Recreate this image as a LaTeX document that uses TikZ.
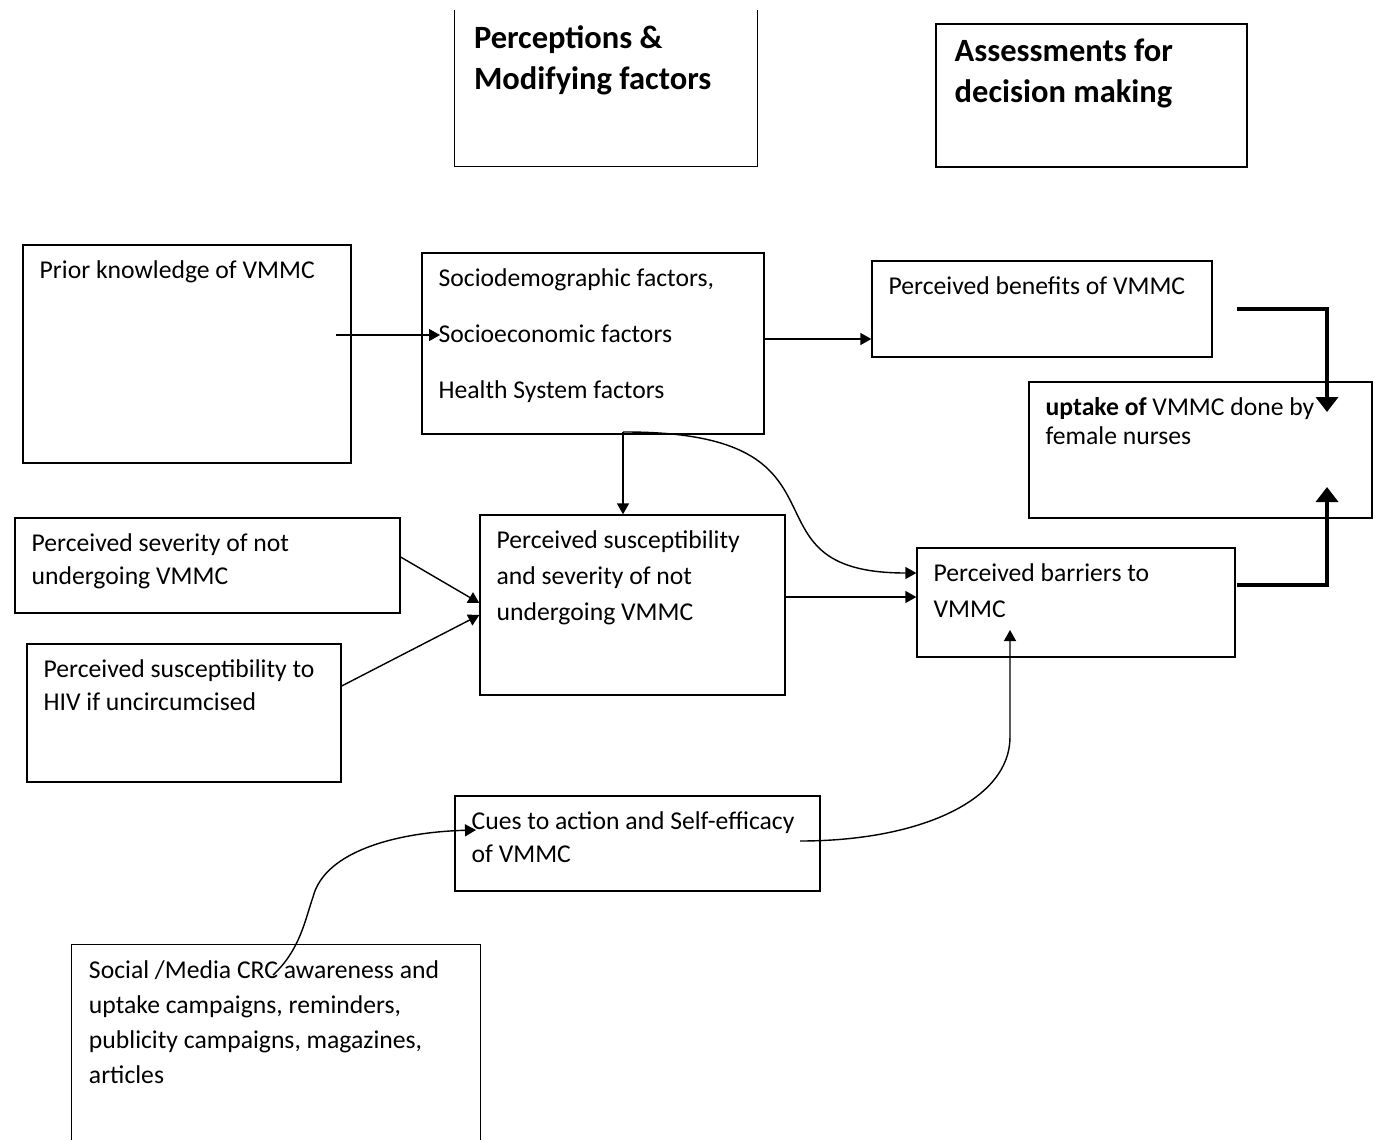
\documentclass[tikz,border=0pt]{standalone}
\usepackage{fontspec}
\setmainfont{Carlito}
\usetikzlibrary{positioning,fit,arrows.meta}

\tikzset{
  box/.style={draw, line width=0.75pt, inner sep=0pt},
  frame/.style={inner sep=0pt},
  txt/.style={anchor=north west, align=left, inner xsep=0.34cm, inner ysep=0.32cm, font=\fontsize{14.6}{18.8}\selectfont},
  head/.style={anchor=north west, align=left, inner xsep=0.38cm, inner ysep=0.31cm, font=\bfseries\fontsize{18.5}{23.3}\selectfont},
  arr/.style={-{Triangle[width=0.24cm,length=0.22cm]}, line width=0.8pt},
  fat/.style={-{Triangle[width=0.44cm,length=0.3cm]}, line width=2.4pt},
}

\begin{document}
\begin{tikzpicture}[x=0.02cm, y=-0.02cm]
\useasboundingbox (0,0) rectangle (1375,1140);

% headings
\node[frame, fit={(455,10) (757,166)}] (percframe) {};
\draw[line width=0.75pt] (percframe.north west) -- (percframe.south west) -- (percframe.south east) -- (percframe.north east);
\node[head] (perchead) at (percframe.north west) {Perceptions \&\\Modifying factors};
\node[box, fit={(936,24) (1247,167)}] (assess) {};
\node[head] (assesshead) at (assess.north west) {Assessments for\\decision making};

% boxes
\node[box, fit={(23,245) (351,463)}] (prior) {};
\node[box, fit={(422,253) (764,434)}] (socio) {};
\node[box, fit={(872,261) (1212,357)}] (benefit) {};
\node[box, fit={(1029,382) (1372,518)}] (uptake) {};
\node[box, fit={(15,518) (400,613)}] (severe) {};
\node[box, fit={(27,644) (341,782)}] (suscept) {};
\node[box, fit={(480,515) (785,695)}] (percsev) {};
\node[box, fit={(917,548) (1235,657)}] (barrier) {};
\node[box, fit={(455,796) (820,891)}] (cues) {};
\node[frame, fit={(72,945) (480,1140)}] (media) {};
\draw[line width=0.75pt] (media.south west) -- (media.north west) -- (media.north east) -- (media.south east);

% texts
\node[txt] (priortxt) at (prior.north west) {Prior knowledge of VMMC};
\node[txt, font=\fontsize{14.6}{31.9}\selectfont] (sociotxt) at (socio.north west) {Sociodemographic factors,\\Socioeconomic factors\\Health System factors};
\node[txt] (benefittxt) at (benefit.north west) {Perceived benefits of VMMC};
\node[txt, font=\fontsize{14.6}{16.5}\selectfont] (uptaketxt) at (uptake.north west) {\textbf{uptake of} VMMC done by\\female nurses};
\node[txt] (severetxt) at (severe.north west) {Perceived severity of not\\undergoing VMMC};
\node[txt] (suscepttxt) at (suscept.north west) {Perceived susceptibility to\\HIV if uncircumcised};
\node[txt, font=\fontsize{14.6}{20.5}\selectfont] (percsevtxt) at (percsev.north west) {Perceived susceptibility\\and severity of not\\undergoing VMMC};
\node[txt, font=\fontsize{14.6}{20.5}\selectfont] (barriertxt) at (barrier.north west) {Perceived barriers to\\VMMC};
\node[txt] (cuestxt) at (cues.north west) {Cues to action and Self-efficacy\\of VMMC};
\node[txt, font=\fontsize{14.6}{19.9}\selectfont] (mediatxt) at (media.north west) {Social /Media CRC awareness and\\uptake campaigns, reminders,\\publicity campaigns, magazines,\\articles};

% connectors
\coordinate (k1) at (336,335);
\coordinate (k2) at (440,335);
\draw[arr] (k1) -- (k2);
\draw[arr] (socio.east |- 0,339) -- (benefit.west |- 0,339);
\coordinate (b1) at (1237,309);
\coordinate (b2) at (1237,585);
\draw[fat] (b1) -| (1327,412);
\draw[fat] (b2) -| (1327,487);
\coordinate (fork) at (623,432);
\draw[arr] (fork) -- (fork |- percsev.north);
\draw[arr] (fork) .. controls (870,431) and (730,573) .. (barrier.west |- 0,573);
\draw[arr] (percsev.east |- 0,597) -- (barrier.west |- 0,597);
\draw[arr] (severe.east |- 0,557) -- (percsev.west |- 0,603);
\draw[arr] (suscept.east |- 0,686) -- (percsev.west |- 0,615);
\coordinate (c1) at (800,841);
\coordinate (c2) at (1010,630);
\draw[arr] (c1) .. controls (920,841) and (1010,800) .. (1010,737) -- (c2);
\coordinate (m1) at (273,975);
\coordinate (m2) at (476,830);
\draw[arr] (m1) .. controls (300,950) and (305,920) .. (313,897) .. controls (325,850) and (400,832) .. (m2);
\end{tikzpicture}
\end{document}
